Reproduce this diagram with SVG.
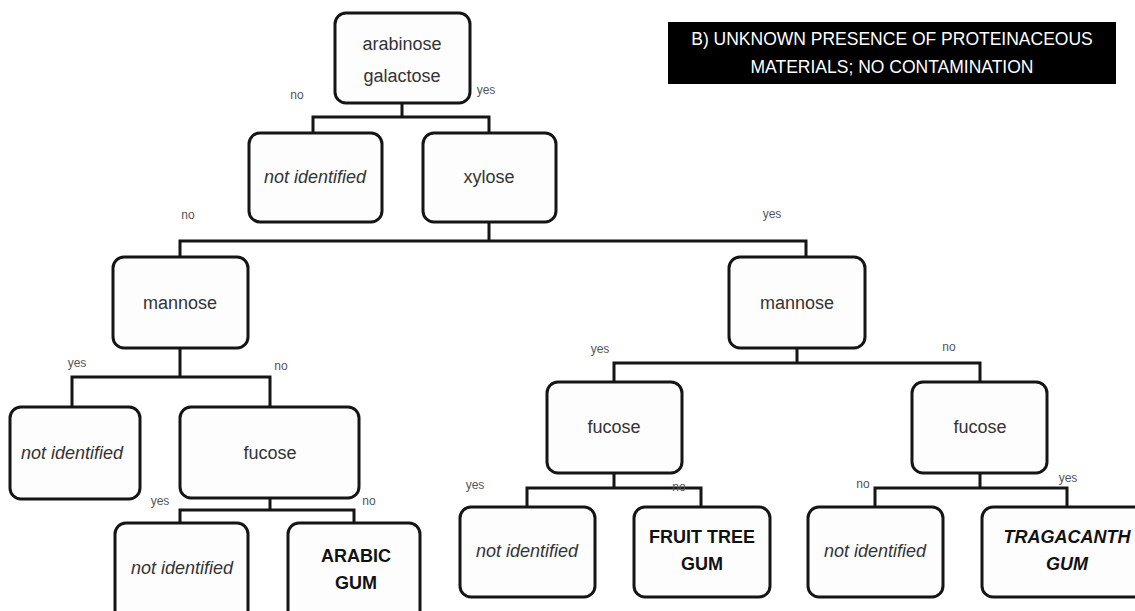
<svg xmlns="http://www.w3.org/2000/svg" width="1135" height="611" viewBox="0 0 1135 611">
<style>
.box{fill:#fdfdfd;stroke:#151515;stroke-width:3}
.t{font-family:"Liberation Sans",Arial,sans-serif;font-size:18px;fill:#333;text-anchor:middle}
.i{font-style:italic}
.b{font-weight:bold;fill:#111}
.lab{font-family:"Liberation Sans",Arial,sans-serif;font-size:12px;fill:#555;text-anchor:middle}
.conn path{fill:none;stroke:#151515;stroke-width:3}
.title{font-family:"Liberation Sans",Arial,sans-serif;font-size:17.5px;fill:#fff;text-anchor:middle}
</style>
<rect width="1135" height="611" fill="#fff"/>
<g id="title">
<rect x="668" y="22" width="448" height="62" fill="#000"/>
<text class="title" x="892" y="45">B) UNKNOWN PRESENCE OF PROTEINACEOUS</text>
<text class="title" x="892" y="73">MATERIALS; NO CONTAMINATION</text>
</g>
<g class="conn" id="connectors">
<path d="M402 103V117M313 133V117H489V133"/>
<path d="M489 222V241M180 258V241H806V258"/>
<path d="M180 348V377M72 407V377H270V407"/>
<path d="M270 498V510M180 523V510H354V523"/>
<path d="M797 348V363M614 382V363H980V382"/>
<path d="M614 473V488M527 507V488H701V507"/>
<path d="M980 473V488M875 507V488H1067V507"/>
</g>
<g id="labels">
<text class="lab" x="297" y="99">no</text>
<text class="lab" x="486" y="94">yes</text>
<text class="lab" x="188" y="219">no</text>
<text class="lab" x="772" y="218">yes</text>
<text class="lab" x="77" y="367">yes</text>
<text class="lab" x="281" y="370">no</text>
<text class="lab" x="160" y="505">yes</text>
<text class="lab" x="369" y="505">no</text>
<text class="lab" x="600" y="353">yes</text>
<text class="lab" x="949" y="351">no</text>
<text class="lab" x="475" y="489">yes</text>
<text class="lab" x="679" y="491">no</text>
<text class="lab" x="863" y="488">no</text>
<text class="lab" x="1068" y="482">yes</text>
</g>
<g id="n-root">
<rect class="box" x="335" y="13" width="135" height="90" rx="11"/>
<text class="t" x="402" y="50">arabinose</text>
<text class="t" x="402" y="82">galactose</text>
</g>
<g id="n-notid1">
<rect class="box" x="249" y="133" width="133" height="89" rx="11"/>
<text class="t i" x="315" y="183">not identified</text>
</g>
<g id="n-xylose">
<rect class="box" x="423" y="133" width="133" height="89" rx="11"/>
<text class="t" x="489" y="183">xylose</text>
</g>
<g id="n-mannose-l">
<rect class="box" x="113" y="257" width="135" height="91" rx="11"/>
<text class="t" x="180" y="309">mannose</text>
</g>
<g id="n-mannose-r">
<rect class="box" x="729" y="257" width="136" height="91" rx="11"/>
<text class="t" x="797" y="309">mannose</text>
</g>
<g id="n-notid2">
<rect class="box" x="10" y="407" width="130" height="92" rx="11"/>
<text class="t i" x="72" y="459">not identified</text>
</g>
<g id="n-fucose-l">
<rect class="box" x="180" y="407" width="179" height="91" rx="11"/>
<text class="t" x="270" y="459">fucose</text>
</g>
<g id="n-notid3">
<rect class="box" x="115" y="523" width="133" height="100" rx="11"/>
<text class="t i" x="182" y="574">not identified</text>
</g>
<g id="n-arabic">
<rect class="box" x="288" y="523" width="132" height="100" rx="11"/>
<text class="t b" x="356" y="562">ARABIC</text>
<text class="t b" x="356" y="589">GUM</text>
</g>
<g id="n-fucose-m">
<rect class="box" x="547" y="382" width="135" height="91" rx="11"/>
<text class="t" x="614" y="433">fucose</text>
</g>
<g id="n-fucose-r">
<rect class="box" x="912" y="382" width="135" height="91" rx="11"/>
<text class="t" x="980" y="433">fucose</text>
</g>
<g id="n-notid4">
<rect class="box" x="460" y="507" width="135" height="90" rx="11"/>
<text class="t i" x="527" y="557">not identified</text>
</g>
<g id="n-fruit">
<rect class="box" x="634" y="507" width="136" height="90" rx="11"/>
<text class="t b" x="702" y="543">FRUIT TREE</text>
<text class="t b" x="702" y="570">GUM</text>
</g>
<g id="n-notid5">
<rect class="box" x="808" y="507" width="135" height="90" rx="11"/>
<text class="t i" x="875" y="557">not identified</text>
</g>
<g id="n-tragacanth">
<rect class="box" x="982" y="507" width="170" height="90" rx="11"/>
<text class="t b i" x="1067" y="543">TRAGACANTH</text>
<text class="t b i" x="1067" y="570">GUM</text>
</g>
</svg>
